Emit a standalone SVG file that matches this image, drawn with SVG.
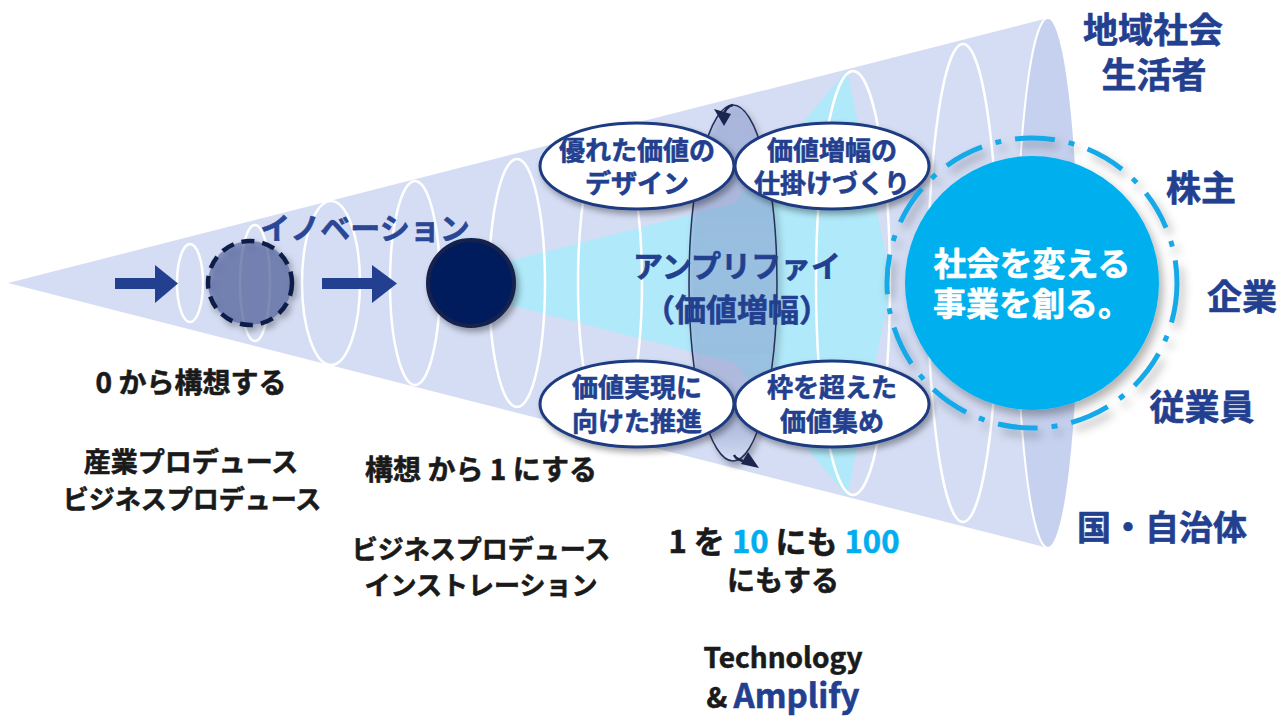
<svg xmlns="http://www.w3.org/2000/svg" width="1280" height="718" viewBox="0 0 1280 718">
<defs>
<filter id="sh" x="-30%" y="-30%" width="160%" height="160%">
<feDropShadow dx="3" dy="4" stdDeviation="3" flood-color="#000" flood-opacity="0.35"/>
</filter>
<filter id="sh2" x="-30%" y="-30%" width="160%" height="160%">
<feDropShadow dx="4" dy="6" stdDeviation="5" flood-color="#000" flood-opacity="0.3"/>
</filter>
<linearGradient id="lensg" x1="0" y1="0" x2="0" y2="1">
<stop offset="0" stop-color="#8a9cd3" stop-opacity="0.42"/>
<stop offset="0.85" stop-color="#8a9cd3" stop-opacity="0.36"/>
<stop offset="1" stop-color="#dde6fa" stop-opacity="0.85"/>
</linearGradient>
<style>
.ring{fill:none;stroke:#ffffff;stroke-width:2.5}
.lbl{fill:#ffffff;stroke:#1f3a80;stroke-width:3}
.t{font-family:'Noto Sans CJK JP','Noto Sans',sans-serif;font-weight:700;text-anchor:middle;stroke-width:0.6;stroke-linejoin:round}
.navy{fill:#233f8f;stroke:#233f8f}
.blk{fill:#1a1a1a;stroke:#1a1a1a}
.wht{fill:#ffffff;stroke:#ffffff}
.cy{fill:#00aeef;stroke:#00aeef}
.arr{fill:#233f8f}
</style>
</defs>
<g id="cone">
<polygon points="8,283 1048,18 1048,548" fill="#d5ddf4"/>
<ellipse cx="1048" cy="283" rx="31" ry="265" fill="#c5d1ef" stroke="#ffffff" stroke-width="2"/>
</g>
<g id="amplify-beam">
<polygon points="424,283 735,203 847,70 892,283 847,496 735,363" fill="#b0e9fa"/>
</g>
<g id="rings">
<ellipse class="ring" cx="190" cy="283" rx="13" ry="39"/>
<ellipse class="ring" cx="255" cy="283" rx="15" ry="58"/>
<ellipse class="ring" cx="331" cy="283" rx="29" ry="82"/>
<ellipse class="ring" cx="415" cy="283" rx="25" ry="102"/>
<ellipse class="ring" cx="517" cy="283" rx="28" ry="124"/>
<ellipse class="ring" cx="610" cy="283" rx="32" ry="150"/>
<ellipse class="ring" cx="853" cy="283" rx="37" ry="212"/>
<ellipse class="ring" cx="963" cy="283" rx="35" ry="239"/>
</g>
<g id="connectors">
<rect x="115" y="278" width="43" height="11" class="arr"/>
<polygon points="155,265 178,283.5 155,303" class="arr"/>
<rect x="322" y="278" width="52" height="11" class="arr"/>
<polygon points="372,265 397,283.5 372,303" class="arr"/>
</g>
<g id="idea">
<circle cx="250" cy="283" r="42" fill="#4a5c99" fill-opacity="0.6" stroke="#0f1f48" stroke-width="4.5" stroke-dasharray="13 8" filter="url(#sh)"/>
</g>
<g id="concept">
<circle cx="471" cy="283" r="43" fill="#041e5c" stroke="#13234d" stroke-width="4" filter="url(#sh)"/>
</g>
<g id="innovation-label">
<text class="t" x="365" y="239" font-size="30" fill="#2a4796" stroke="#2a4796">イノベーション</text>
</g>
<g id="lens">
<ellipse cx="733" cy="283" rx="44" ry="178" fill="url(#lensg)" stroke="#26305a" stroke-width="1.5" filter="url(#sh)"/>
<path d="M722,118 Q726,106 733,105" fill="none" stroke="#1c2550" stroke-width="2.5"/>
<polygon points="714,109 731,114 724,126" fill="#1c2550"/>
<path d="M743,461 Q736,459 734,455" fill="none" stroke="#1c2550" stroke-width="2.5"/>
<polygon points="759,468 741,464 748,452" fill="#1c2550"/>
<text class="t navy" font-size="30"><tspan x="737" y="277">アンプリファイ</tspan><tspan x="737" y="321" font-size="31">（価値増幅）</tspan></text>
</g>
<g id="label-design">
<ellipse class="lbl" cx="637" cy="166" rx="97" ry="43" filter="url(#sh)"/>
<text class="t navy" font-size="26"><tspan x="637" y="160">優れた価値の</tspan><tspan x="637" y="193">デザイン</tspan></text>
</g>
<g id="label-mechanism">
<ellipse class="lbl" cx="832" cy="166" rx="97" ry="43" filter="url(#sh)"/>
<text class="t navy" font-size="26"><tspan x="832" y="160">価値増幅の</tspan><tspan x="832" y="193">仕掛けづくり</tspan></text>
</g>
<g id="label-promotion">
<ellipse class="lbl" cx="637" cy="404" rx="97" ry="43" filter="url(#sh)"/>
<text class="t navy" font-size="26"><tspan x="637" y="397">価値実現に</tspan><tspan x="637" y="431">向けた推進</tspan></text>
</g>
<g id="label-gather">
<ellipse class="lbl" cx="832" cy="404" rx="97" ry="43" filter="url(#sh)"/>
<text class="t navy" font-size="26"><tspan x="832" y="397">枠を超えた</tspan><tspan x="832" y="431">価値集め</tspan></text>
</g>
<g id="goal">
<circle cx="1032" cy="283" r="145" fill="none" stroke="#19a9e8" stroke-width="5" stroke-dasharray="40 14 6 14" filter="url(#sh2)"/>
<circle cx="1032" cy="283" r="127" fill="#00b0ee" filter="url(#sh2)"/>
<text class="t wht" font-size="33"><tspan x="1032" y="276">社会を変える</tspan><tspan x="1032" y="316">事業を創る。</tspan></text>
</g>
<g id="stakeholders">
<text class="t navy" font-size="35"><tspan x="1153" y="43">地域社会</tspan><tspan x="1154" y="88">生活者</tspan></text>
<text class="t navy" x="1201" y="201" font-size="35">株主</text>
<text class="t navy" x="1242" y="310" font-size="35">企業</text>
<text class="t navy" x="1202" y="420" font-size="35">従業員</text>
<text class="t navy" x="1162" y="540" font-size="34">国・自治体</text>
</g>
<g id="stage1">
<text class="t blk" x="191" y="393" font-size="28">0 から構想する</text>
<text class="t blk" font-size="27"><tspan x="191" y="472">産業プロデュース</tspan><tspan x="192" y="509" font-size="26">ビジネスプロデュース</tspan></text>
</g>
<g id="stage2">
<text class="t blk" x="481" y="480" font-size="28">構想 から 1 にする</text>
<text class="t blk" font-size="26"><tspan x="481" y="559">ビジネスプロデュース</tspan><tspan x="481" y="595">インストレーション</tspan></text>
</g>
<g id="stage3">
<text class="t blk" font-size="31"><tspan x="784" y="553">1 を <tspan class="cy">10</tspan> にも <tspan class="cy">100</tspan></tspan><tspan x="783" y="591" font-size="28">にもする</tspan></text>
<text class="t blk" font-size="28" font-family="'Noto Sans',sans-serif" font-weight="700"><tspan x="783" y="668">Technology</tspan><tspan x="783" y="708">&amp; <tspan class="navy" font-size="33">Amplify</tspan></tspan></text>
</g>
</svg>
